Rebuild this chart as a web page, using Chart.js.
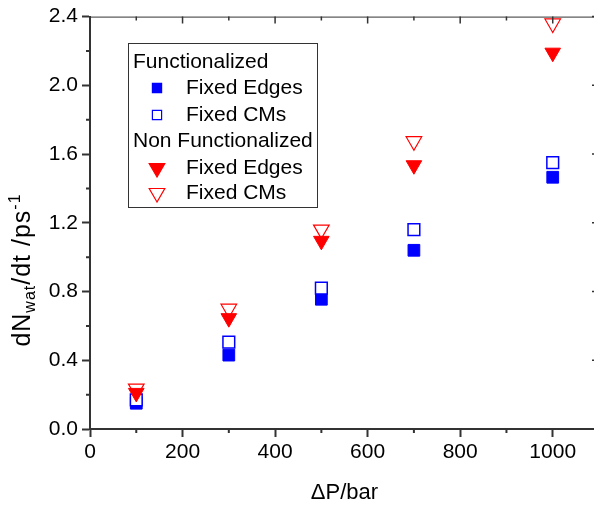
<!DOCTYPE html>
<html>
<head>
<meta charset="utf-8">
<script src="https://cdn.jsdelivr.net/npm/chart.js@4.4.1/dist/chart.umd.min.js"></script>
<style>
  html, body { margin: 0; padding: 0; background: #fff; overflow: hidden; }
  canvas { display: block; }
</style>
</head>
<body>
<canvas id="chart" width="602" height="506"></canvas>
<script>
// pressure difference (bar)
const pressures = [100, 300, 500, 700, 1000];
// flow rates
const funcEdges = [0.15, 0.43, 0.755, 1.04, 1.465];
const funcCMs = [0.17, 0.505, 0.82, 1.16, 1.55];
const nonFuncEdges = [0.21, 0.645, 1.095, 1.535, 2.19];
const nonFuncCMs = [0.235, 0.70, 1.16, 1.675, 2.36];

const xMinor = [100, 300, 500, 700, 900, 1100];
const yMinor = [0.2, 0.6, 1.0, 1.4, 1.8, 2.2];
const xMajor = [0, 200, 400, 600, 800, 1000];
const yMajor = [0, 0.4, 0.8, 1.2, 1.6, 2.0, 2.4];

const BLUE = '#0000ff';
const RED = '#ff0000';
const AXIS = '#333333';
const FONT = '"Liberation Sans", Arial, sans-serif';

function pts(ys) {
    return pressures.map((x, i) => ({ x: x, y: ys[i] }));
}

Chart.defaults.font.family = FONT;
Chart.defaults.font.size = 21;
Chart.defaults.color = '#000';

// frame, minor ticks, y title and the grouped legend
const extras = {
    id: 'extras',
    afterDraw(chart) {
        const ctx = chart.ctx;
        const a = chart.chartArea;
        const xs = chart.scales.x, ys = chart.scales.y;
        ctx.save();
        ctx.strokeStyle = AXIS;

        // top + right border (thin), inward ticks
        ctx.lineWidth = 1;
        ctx.beginPath();
        ctx.moveTo(a.left, a.top + 0.5); ctx.lineTo(a.right, a.top + 0.5);
        ctx.moveTo(a.right - 0.5, a.top); ctx.lineTo(a.right - 0.5, a.bottom);
        ctx.stroke();
        ctx.lineWidth = 1.5;
        ctx.beginPath();
        xMajor.forEach(v => { const p = xs.getPixelForValue(v); ctx.moveTo(p, a.top); ctx.lineTo(p, a.top + 7); });
        xMinor.forEach(v => { const p = xs.getPixelForValue(v); ctx.moveTo(p, a.top); ctx.lineTo(p, a.top + 4); });
        yMajor.forEach(v => { const p = ys.getPixelForValue(v); ctx.moveTo(a.right, p); ctx.lineTo(a.right - 7, p); });
        yMinor.forEach(v => { const p = ys.getPixelForValue(v); ctx.moveTo(a.right, p); ctx.lineTo(a.right - 4, p); });
        ctx.stroke();

        // minor ticks outward on bottom and left
        ctx.lineWidth = 2;
        ctx.beginPath();
        xMinor.forEach(v => { const p = xs.getPixelForValue(v); ctx.moveTo(p, a.bottom); ctx.lineTo(p, a.bottom + 4); });
        yMinor.forEach(v => { const p = ys.getPixelForValue(v); ctx.moveTo(a.left, p); ctx.lineTo(a.left - 4, p); });
        ctx.stroke();

        // y axis title with subscript / superscript
        ctx.fillStyle = '#000';
        ctx.translate(30, 270);
        ctx.rotate(-Math.PI / 2);
        ctx.textBaseline = 'alphabetic';
        ctx.letterSpacing = '1px';
        const big = '25px ' + FONT;
        const small = '16px ' + FONT;
        const parts = [
            { t: 'dN', f: big, dy: 0 },
            { t: 'wat', f: small, dy: 5 },
            { t: '/dt /ps', f: big, dy: 0 },
            { t: '-1', f: small, dy: -10 }
        ];
        let total = 0;
        parts.forEach(p => { ctx.font = p.f; total += ctx.measureText(p.t).width; });
        let cx = -total / 2;
        parts.forEach(p => {
            ctx.font = p.f;
            ctx.fillText(p.t, cx, p.dy);
            cx += ctx.measureText(p.t).width;
        });
        ctx.restore();

        // legend
        ctx.save();
        ctx.strokeStyle = AXIS;
        ctx.lineWidth = 1;
        ctx.strokeRect(128.5, 43.5, 189, 164);
        ctx.fillStyle = '#000';
        ctx.font = '21px ' + FONT;
        ctx.textBaseline = 'middle';
        const rows = [
            { head: 'Functionalized', y: 62 },
            { label: 'Fixed Edges', y: 88, style: 'rect', r: 6.5, fill: BLUE, stroke: BLUE, rot: 0 },
            { label: 'Fixed CMs', y: 115, style: 'rect', r: 6.5, fill: '#fff', stroke: BLUE, rot: 0 },
            { head: 'Non Functionalized', y: 141 },
            { label: 'Fixed Edges', y: 168, style: 'triangle', r: 9, fill: RED, stroke: RED, rot: 180 },
            { label: 'Fixed CMs', y: 193, style: 'triangle', r: 9, fill: '#fff', stroke: RED, rot: 180 }
        ];
        rows.forEach(r => {
            if (r.head) {
                ctx.fillStyle = '#000';
                ctx.fillText(r.head, 133, r.y);
                return;
            }
            ctx.fillStyle = r.fill;
            ctx.strokeStyle = r.stroke;
            ctx.lineWidth = 1.2;
            Chart.helpers.drawPoint(ctx, { pointStyle: r.style, radius: r.r, rotation: r.rot, borderWidth: 1.2 }, 157, r.y);
            ctx.fillStyle = '#000';
            ctx.fillText(r.label, 186, r.y);
        });
        ctx.restore();
    }
};

const ctx = document.getElementById('chart').getContext('2d');
const chart = new Chart(ctx, {
    type: 'scatter',
    data: {
        datasets: [
            {
                label: 'Functionalized Fixed Edges',
                data: pts(funcEdges),
                pointStyle: 'rect', pointRadius: 8.3,
                backgroundColor: BLUE, borderColor: BLUE, borderWidth: 1,
                order: 4, clip: false
            },
            {
                label: 'Functionalized Fixed CMs',
                data: pts(funcCMs),
                pointStyle: 'rect', pointRadius: 8.3,
                backgroundColor: '#fff', borderColor: BLUE, borderWidth: 1.5,
                order: 3, clip: false
            },
            {
                label: 'Non Functionalized Fixed Edges',
                data: pts(nonFuncEdges),
                pointStyle: 'triangle', pointRadius: 9, rotation: 180,
                backgroundColor: RED, borderColor: RED, borderWidth: 1,
                order: 1, clip: false
            },
            {
                label: 'Non Functionalized Fixed CMs',
                data: pts(nonFuncCMs),
                pointStyle: 'triangle', pointRadius: 9, rotation: 180,
                backgroundColor: '#fff', borderColor: RED, borderWidth: 1.2,
                order: 2, clip: false
            }
        ]
    },
    options: {
        responsive: false,
        animation: false,
        layout: { autoPadding: false, padding: { top: 16, right: 3, left: 0, bottom: 0 } },
        plugins: {
            legend: { display: false },
            tooltip: { enabled: false }
        },
        scales: {
            x: {
                type: 'linear',
                min: 0, max: 1100,
                afterFit(s) { s.height = 77; },
                ticks: { stepSize: 200, includeBounds: false, padding: 3, maxRotation: 0, callback: v => String(v) },
                grid: { drawOnChartArea: false, tickLength: 8, tickColor: AXIS, tickWidth: 2 },
                border: { color: AXIS, width: 2 },
                title: { display: true, text: '\u0394P/bar', font: { size: 22 }, padding: { top: 6, bottom: 0 } }
            },
            y: {
                min: 0, max: 2.4,
                afterFit(s) { s.width = 90; },
                ticks: { stepSize: 0.4, padding: 4, callback: v => v.toFixed(1) },
                grid: { drawOnChartArea: false, tickLength: 8, tickColor: AXIS, tickWidth: 2 },
                border: { color: AXIS, width: 2 }
            }
        }
    },
    plugins: [extras]
});
</script>
</body>
</html>
